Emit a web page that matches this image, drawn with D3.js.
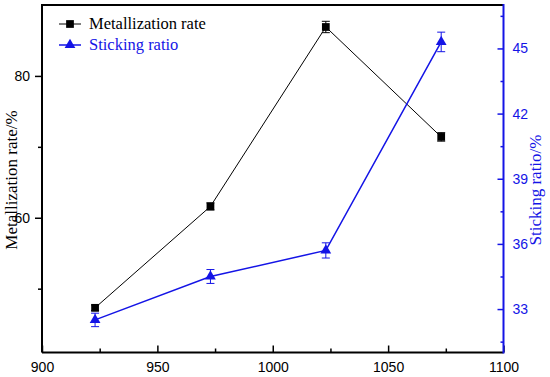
<!DOCTYPE html>
<html>
<head>
<meta charset="utf-8">
<script src="https://cdn.jsdelivr.net/npm/d3@7"></script>
<style>
  body { margin: 0; background: #fff; }
</style>
</head>
<body>
<script>
// data
var temps = [923, 973, 1023, 1073]
var metal = [47.3, 61.6, 86.9, 71.4]
var metalErr = [0.4, 0.5, 0.8, 0.6]
var stick = [32.5, 34.5, 35.7, 45.3]
var stickErr = [0.31, 0.32, 0.35, 0.45]

var xTicks = [900, 950, 1000, 1050, 1100]
var xMinor = [925, 975, 1025, 1075]
var leftTicks = [60, 80]
var leftMinor = [50, 70]
var rightTicks = [33, 36, 39, 42, 45]
var rightMinor = [31.5, 34.5, 37.5, 40.5, 43.5, 46.5]

var legendNames = ["Metallization rate", "Sticking ratio"]

var width = 550
var height = 377
var blue = "#1414e6"

var svg = d3.select("body")
    .append("svg")
    .attr("width", width)
    .attr("height", height)

// plot box (window.top is taken, so use other names)
var pLeft = 42, pRight = 503.5, pTop = 5, pBottom = 352.5

var x = d3.scaleLinear().domain([900, 1100]).range([pLeft, pRight])
var yL = d3.scaleLinear().domain([41, 90]).range([pBottom, pTop])
var yR = d3.scaleLinear().domain([31, 47]).range([pBottom, pTop])

// bottom axis, ticks pointing in
var gx = svg.append("g").attr("transform", "translate(0," + pBottom + ")")
gx.call(d3.axisBottom(x).tickValues(xTicks).tickFormat(d3.format("d")).tickSizeInner(-7).tickSizeOuter(0).tickPadding(10))
gx.append("g").call(d3.axisBottom(x).tickValues(xMinor).tickSizeInner(-4).tickSizeOuter(0).tickFormat(""))

// left axis, ticks pointing out
var gl = svg.append("g").attr("transform", "translate(" + pLeft + ",0)")
gl.call(d3.axisLeft(yL).tickValues(leftTicks).tickSizeInner(7).tickSizeOuter(0).tickPadding(5))
gl.append("g").call(d3.axisLeft(yL).tickValues(leftMinor).tickSizeInner(4).tickSizeOuter(0).tickFormat(""))

// right axis, blue, ticks pointing in
var gr = svg.append("g").attr("transform", "translate(" + pRight + ",0)")
gr.call(d3.axisRight(yR).tickValues(rightTicks).tickSizeInner(-6).tickSizeOuter(0).tickPadding(9))
gr.append("g").call(d3.axisRight(yR).tickValues(rightMinor).tickSizeInner(-3).tickSizeOuter(0).tickFormat(""))

svg.selectAll(".tick text")
    .attr("font-family", "Liberation Sans, Arial, sans-serif")
    .attr("font-size", 14)
svg.selectAll(".domain").remove()
gx.selectAll("line").attr("stroke", "#000").attr("stroke-width", 1.5)
gl.selectAll("line").attr("stroke", "#000").attr("stroke-width", 1.5)
gr.selectAll("line").attr("stroke", blue).attr("stroke-width", 1.5)
gr.selectAll("text").attr("fill", blue)

// frame
svg.append("path")
    .attr("d", "M" + pLeft + "," + pBottom + "V" + pTop + "H" + pRight)
    .attr("fill", "none").attr("stroke", "#000").attr("stroke-width", 2)
svg.append("line")
    .attr("x1", pLeft).attr("x2", pRight).attr("y1", pBottom).attr("y2", pBottom)
    .attr("stroke", "#000").attr("stroke-width", 2)
svg.append("line")
    .attr("x1", pRight).attr("x2", pRight).attr("y1", pTop - 1).attr("y2", pBottom + 1)
    .attr("stroke", blue).attr("stroke-width", 2)

// axis titles
svg.append("text")
    .attr("transform", "translate(17,180) rotate(-90)")
    .attr("text-anchor", "middle")
    .attr("font-family", "Liberation Serif, Times New Roman, serif")
    .attr("font-size", 17)
    .text("Metallization rate/%")
svg.append("text")
    .attr("transform", "translate(541,190) rotate(-90)")
    .attr("text-anchor", "middle")
    .attr("font-family", "Liberation Serif, Times New Roman, serif")
    .attr("font-size", 17)
    .attr("fill", blue)
    .text("Sticking ratio/%")

// series
var lineL = d3.line().x(function(d, i) { return x(temps[i]) }).y(function(d) { return yL(d) })
var lineR = d3.line().x(function(d, i) { return x(temps[i]) }).y(function(d) { return yR(d) })

svg.append("path").attr("d", lineL(metal)).attr("fill", "none").attr("stroke", "#000").attr("stroke-width", 1)
svg.append("path").attr("d", lineR(stick)).attr("fill", "none").attr("stroke", blue).attr("stroke-width", 1.5)

function errorBars(vals, errs, y, color) {
    var g = svg.append("g").attr("stroke", color).attr("stroke-width", 1)
    vals.forEach(function(v, i) {
        var cx = x(temps[i])
        g.append("line").attr("x1", cx).attr("x2", cx).attr("y1", y(v - errs[i])).attr("y2", y(v + errs[i]))
        g.append("line").attr("x1", cx - 4).attr("x2", cx + 4).attr("y1", y(v - errs[i])).attr("y2", y(v - errs[i]))
        g.append("line").attr("x1", cx - 4).attr("x2", cx + 4).attr("y1", y(v + errs[i])).attr("y2", y(v + errs[i]))
    })
}
errorBars(metal, metalErr, yL, "#000")
errorBars(stick, stickErr, yR, blue)

var sq = d3.symbol().type(d3.symbolSquare).size(60)
var tri = d3.symbol().type(d3.symbolTriangle).size(50)

svg.selectAll(".sq").data(metal).enter().append("path")
    .attr("class", "sq")
    .attr("d", sq)
    .attr("transform", function(d, i) { return "translate(" + x(temps[i]) + "," + yL(d) + ")" })
    .attr("fill", "#000")

svg.selectAll(".tri").data(stick).enter().append("path")
    .attr("class", "tri")
    .attr("d", tri)
    .attr("transform", function(d, i) { return "translate(" + x(temps[i]) + "," + yR(d) + ")" })
    .attr("fill", blue)

// legend
var legend = svg.selectAll(".leg").data(legendNames).enter().append("g")
    .attr("class", "leg")
    .attr("transform", function(d, i) { return "translate(59," + (24 + i * 21) + ")" })
legend.append("line").attr("x1", 0).attr("x2", 22).attr("y1", 0).attr("y2", 0)
    .attr("stroke", function(d, i) { return i == 0 ? "#000" : blue })
    .attr("stroke-width", function(d, i) { return i == 0 ? 1 : 1.5 })
legend.append("path")
    .attr("d", function(d, i) { return i == 0 ? sq() : tri() })
    .attr("transform", "translate(11,0)")
    .attr("fill", function(d, i) { return i == 0 ? "#000" : blue })
legend.append("text")
    .attr("x", 30).attr("y", 5)
    .attr("font-family", "Liberation Serif, Times New Roman, serif")
    .attr("font-size", 16.5)
    .attr("fill", function(d, i) { return i == 0 ? "#000" : blue })
    .text(function(d) { return d })
</script>
</body>
</html>
